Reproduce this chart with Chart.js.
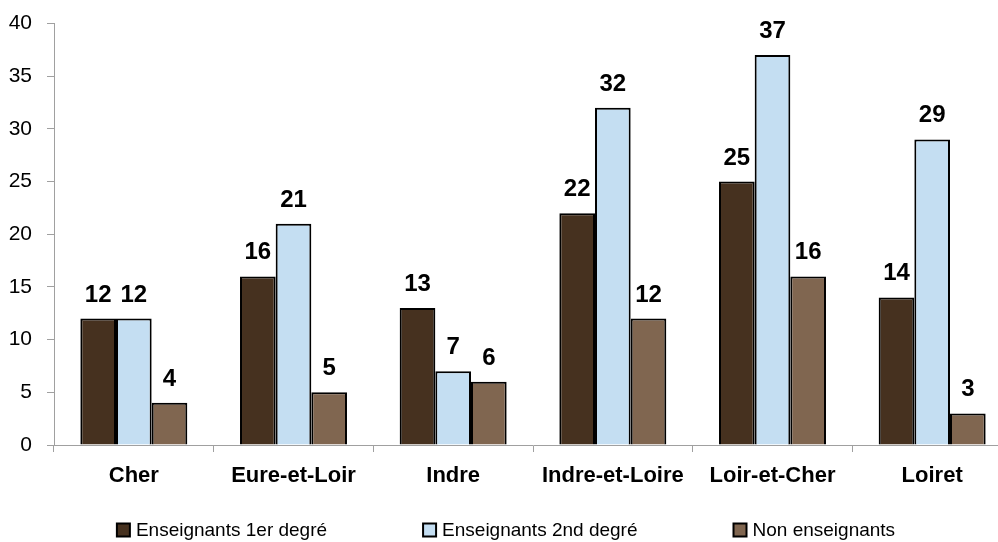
<!DOCTYPE html>
<html>
<head>
<meta charset="utf-8">
<script src="https://cdn.jsdelivr.net/npm/chart.js@4.4.1/dist/chart.umd.min.js"></script>
<style>
html,body{margin:0;padding:0;background:#fff;overflow:hidden;width:998px;height:542px;}
#wrap{width:1012px;height:542px;}
</style>
</head>
<body>
<div id="wrap"><canvas id="c" width="1012" height="542"></canvas></div>
<script>
const categories = ["Cher", "Eure-et-Loir", "Indre", "Indre-et-Loire", "Loir-et-Cher", "Loiret"];
const seriesNames = ["Enseignants 1er degré", "Enseignants 2nd degré", "Non enseignants"];
const premierDegre = [12, 16, 13, 22, 25, 14];
const secondDegre = [12, 21, 7, 32, 37, 29];
const nonEnseignants = [4, 5, 6, 12, 16, 3];
const yTicks = [0, 5, 10, 15, 20, 25, 30, 35, 40];
const seriesColors = ['#46311f', '#c4def2', '#806650'];

const FONT = "'Liberation Sans', Arial, sans-serif";

const labelPlugin = {
  id: 'barLabels',
  afterDatasetsDraw(chart) {
    const ctx = chart.ctx;
    ctx.save();
    ctx.font = "bold 24px " + FONT;
    ctx.fillStyle = '#000';
    ctx.textAlign = 'center';
    ctx.textBaseline = 'alphabetic';
    chart.data.datasets.forEach((ds, i) => {
      const meta = chart.getDatasetMeta(i);
      meta.data.forEach((bar, j) => {
        ctx.fillText(String(ds.data[j]), bar.x, bar.y - 17);
      });
    });
    ctx.restore();
  }
};

const legendPlugin = {
  id: 'customLegend',
  afterDraw(chart) {
    const ctx = chart.ctx;
    ctx.save();
    ctx.font = "19px " + FONT;
    ctx.textBaseline = 'middle';
    ctx.textAlign = 'left';
    const box = 13, gapText = 6, gapItem = 96;
    const items = chart.data.datasets.map(ds => ({
      label: ds.label, color: ds.backgroundColor,
      w: box + gapText + ctx.measureText(ds.label).width
    }));
    const total = items.reduce((s, it) => s + it.w, 0) + gapItem * (items.length - 1);
    let x = 506 - total / 2;
    const cy = 530;
    items.forEach(it => {
      ctx.fillStyle = it.color;
      ctx.fillRect(x, cy - box / 2, box, box);
      ctx.strokeStyle = '#000';
      ctx.lineWidth = 2;
      ctx.strokeRect(x, cy - box / 2, box, box);
      ctx.fillStyle = '#000';
      ctx.fillText(it.label, x + box + gapText, cy + 1);
      x += it.w + gapItem;
    });
    ctx.restore();
  }
};

new Chart(document.getElementById('c'), {
  type: 'bar',
  data: {
    labels: categories,
    datasets: [
      { label: seriesNames[0], data: premierDegre, backgroundColor: seriesColors[0], borderColor: '#000', borderWidth: 2 },
      { label: seriesNames[1], data: secondDegre, backgroundColor: seriesColors[1], borderColor: '#000', borderWidth: 2 },
      { label: seriesNames[2], data: nonEnseignants, backgroundColor: seriesColors[2], borderColor: '#000', borderWidth: 2 }
    ]
  },
  options: {
    responsive: false,
    animation: false,
    layout: { padding: { left: 0, top: 23.5, right: 0, bottom: 52 } },
    datasets: { bar: { categoryPercentage: 0.67, barPercentage: 1.0 } },
    plugins: {
      legend: { display: false },
      tooltip: { enabled: false }
    },
    scales: {
      x: {
        afterFit(scale) { scale.height = 45; scale.paddingLeft = 0; scale.paddingRight = 0; },
        grid: { drawOnChartArea: false, drawTicks: true, tickLength: 7, color: '#a0a0a0', offset: true },
        border: { color: '#a0a0a0', width: 1 },
        ticks: { font: { family: FONT, size: 22, weight: 'bold' }, color: '#000', padding: 11, maxRotation: 0 }
      },
      y: {
        min: 0, max: 40,
        afterFit(scale) { scale.width = 54; scale.paddingTop = 0; scale.paddingBottom = 0; },
        afterBuildTicks(axis) { axis.ticks = yTicks.map(v => ({ value: v })); },
        grid: { drawOnChartArea: false, drawTicks: true, tickLength: 7, color: '#a0a0a0' },
        border: { color: '#a0a0a0', width: 1 },
        ticks: { font: { family: FONT, size: 21 }, color: '#000', padding: 15 }
      }
    }
  },
  plugins: [labelPlugin, legendPlugin]
});
</script>
</body>
</html>
